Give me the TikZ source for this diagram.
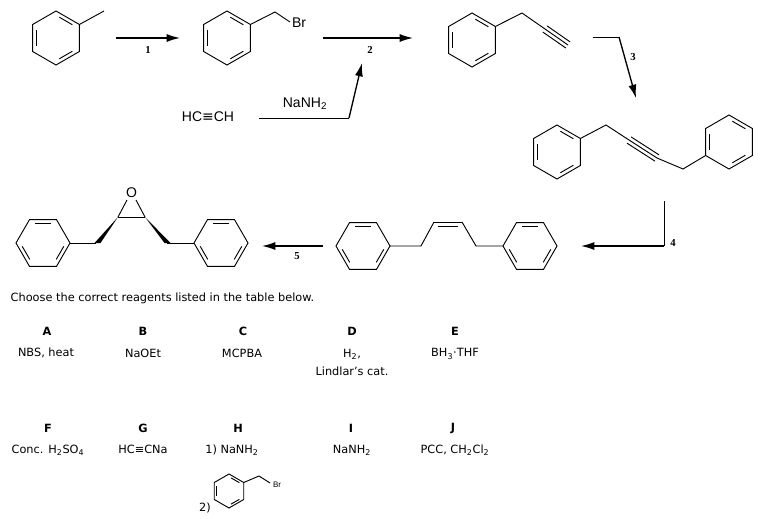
\documentclass[tikz,border=0pt]{standalone}
\usepackage{fontspec}
\setmainfont{Liberation Serif}
\setsansfont{DejaVu Sans}
\newfontfamily\arialf{Liberation Sans}
\newfontfamily\dvs{DejaVu Sans}
\usetikzlibrary{arrows.meta,calc}
\newcommand{\benz}[4]{%
 \draw[bond] ({#1+#3*cos(#4)},{#2+#3*sin(#4)}) \foreach \i in {1,...,5}{ -- ({#1+#3*cos(#4+60*\i)},{#2+#3*sin(#4+60*\i)}) } -- cycle;
 \foreach \i in {0,2,4}{\draw[bond] ({#1+0.78*#3*cos(#4+60*\i+9)},{#2+0.78*#3*sin(#4+60*\i+9)}) -- ({#1+0.78*#3*cos(#4+60*\i+51)},{#2+0.78*#3*sin(#4+60*\i+51)});}}
\newcommand{\sbs}[1]{\textsubscript{#1}}
\begin{document}
\begin{tikzpicture}[x=0.75pt,y=-0.75pt,
 bond/.style={line width=0.7pt},
 rxn/.style={line width=1pt,-{Latex[length=10pt,width=6pt]}},
 num/.style={font=\fontsize{8}{9}\selectfont\bfseries},
 lab/.style={font=\arialf\fontsize{10.5}{12}\selectfont},
 tx/.style={font=\sffamily\fontsize{8.5}{10}\selectfont},
 hd/.style={font=\sffamily\fontsize{8.5}{10}\selectfont\bfseries}]
\useasboundingbox (0,0) rectangle (764,518);
% toluene
\benz{56}{38}{27}{30}
\draw[bond] ({56+27*cos(-30)},{38+27*sin(-30)}) -- (104,11);
\draw[rxn] (116,38) -- (180,38);
\node[num] at (148,50) {1};
% benzyl bromide
\benz{227}{38}{27}{30}
\draw[bond] ({227+27*cos(-30)},{38+27*sin(-30)}) -- (275,12) -- (290,22);
\node[lab] at (299,23) {Br};
\draw[rxn] (323,38) -- (413,38);
\node[num] at (370,50) {2};
\node[lab] at (208,117) {HC{\dvs≡}CH};
\draw[bond] (259,118) -- (349,118);
\draw[rxn] (349,118) -- (362,63);
\node[lab] at (305,104) {NaNH\sbs{2}};
% phenylpropyne
\benz{472}{40}{27}{30}
\draw[bond] ({472+27*cos(-30)},{40+27*sin(-30)}) -- (522,13);
\draw[bond] (522,13) -- (545,29);
\foreach \d in {-2.8,0,2.8}{\draw[bond] ($(545,29)!\d pt!90:(568,45)$) -- ($(568,45)!\d pt!-90:(545,29)$);}
\draw[bond] (593,37) -- (619,37);
\draw[rxn] (619,37) -- (636,98);
\node[num] at (633,57) {3};
% dibenzylacetylene
\benz{557}{152}{27}{30}
\draw[bond] ({557+27*cos(-30)},{152+27*sin(-30)}) -- (606,125) -- (629,140);
\foreach \d in {-2.8,0,2.8}{\draw[bond] ($(629,140)!\d pt!90:(657,158)$) -- ($(657,158)!\d pt!-90:(629,140)$);}
\draw[bond] (657,158) -- (683,169) -- ({729+27*cos(150)},{142+27*sin(150)});
\benz{729}{142}{27}{30}
\draw[bond] (664,201) -- (664,246);
\draw[rxn] (664,246) -- (581,246);
\node[num] at (673,243) {4};
% cis-alkene
\benz{363}{246}{27}{0}
\draw[bond] (390,246) -- (421,246) -- (434,222);
\draw[bond] (434,222) -- (462,222);
\draw[bond] (438,226.5) -- (458,226.5);
\draw[bond] (462,222) -- (476,246) -- (503,246);
\benz{530}{246}{27}{0}
\draw[rxn] (323,246) -- (262,246);
\node[num] at (297,256) {5};
% epoxide
\benz{43}{243}{27}{0}
\benz{221}{243}{27}{0}
\draw[bond] (70,243) -- (96,243);
\fill (118,217) -- (94.5,243) -- (100.5,243) -- cycle;
\fill (145,217) -- (164.5,243) -- (170.5,243) -- cycle;
\draw[bond] (167,243) -- (194,243);
\draw[bond] (118,217) -- (145,217);
\draw[bond] (118,217) -- (127,200);
\draw[bond] (145,217) -- (136,200);
\node[lab] at (131.5,193) {O};
% text
\node[tx,anchor=west] at (6,298) {Choose the correct reagents listed in the table below.};
\node[hd] at (47,331) {A};
\node[hd] at (143,331) {B};
\node[hd] at (243,331) {C};
\node[hd] at (352,331) {D};
\node[hd] at (455,331) {E};
\node[tx] at (46,353) {NBS, heat};
\node[tx] at (143,353) {NaOEt};
\node[tx] at (242,353) {MCPBA};
\node[tx] at (352,354) {H\sbs{2},};
\node[tx] at (352,371) {Lindlar's cat.};
\node[tx] at (455,354) {BH\sbs{3}·THF};
\node[hd] at (48,428) {F};
\node[hd] at (143,428) {G};
\node[hd] at (238,428) {H};
\node[hd] at (351,428) {I};
\node[hd] at (453,428) {J};
\node[tx] at (48,450) {Conc. H\sbs{2}SO\sbs{4}};
\node[tx] at (143,449) {HC≡CNa};
\node[tx] at (232,450) {1) NaNH\sbs{2}};
\node[tx] at (352,450) {NaNH\sbs{2}};
\node[tx] at (455,450) {PCC, CH\sbs{2}Cl\sbs{2}};
\node[tx] at (205,508) {2)};
\benz{229}{491}{17}{30}
\draw[bond] ({229+17*cos(-30)},{491+17*sin(-30)}) -- (259,476) -- (270,483);
\node[lab,font=\arialf\fontsize{6}{7}\selectfont] at (277,485) {Br};
\end{tikzpicture}
\end{document}
